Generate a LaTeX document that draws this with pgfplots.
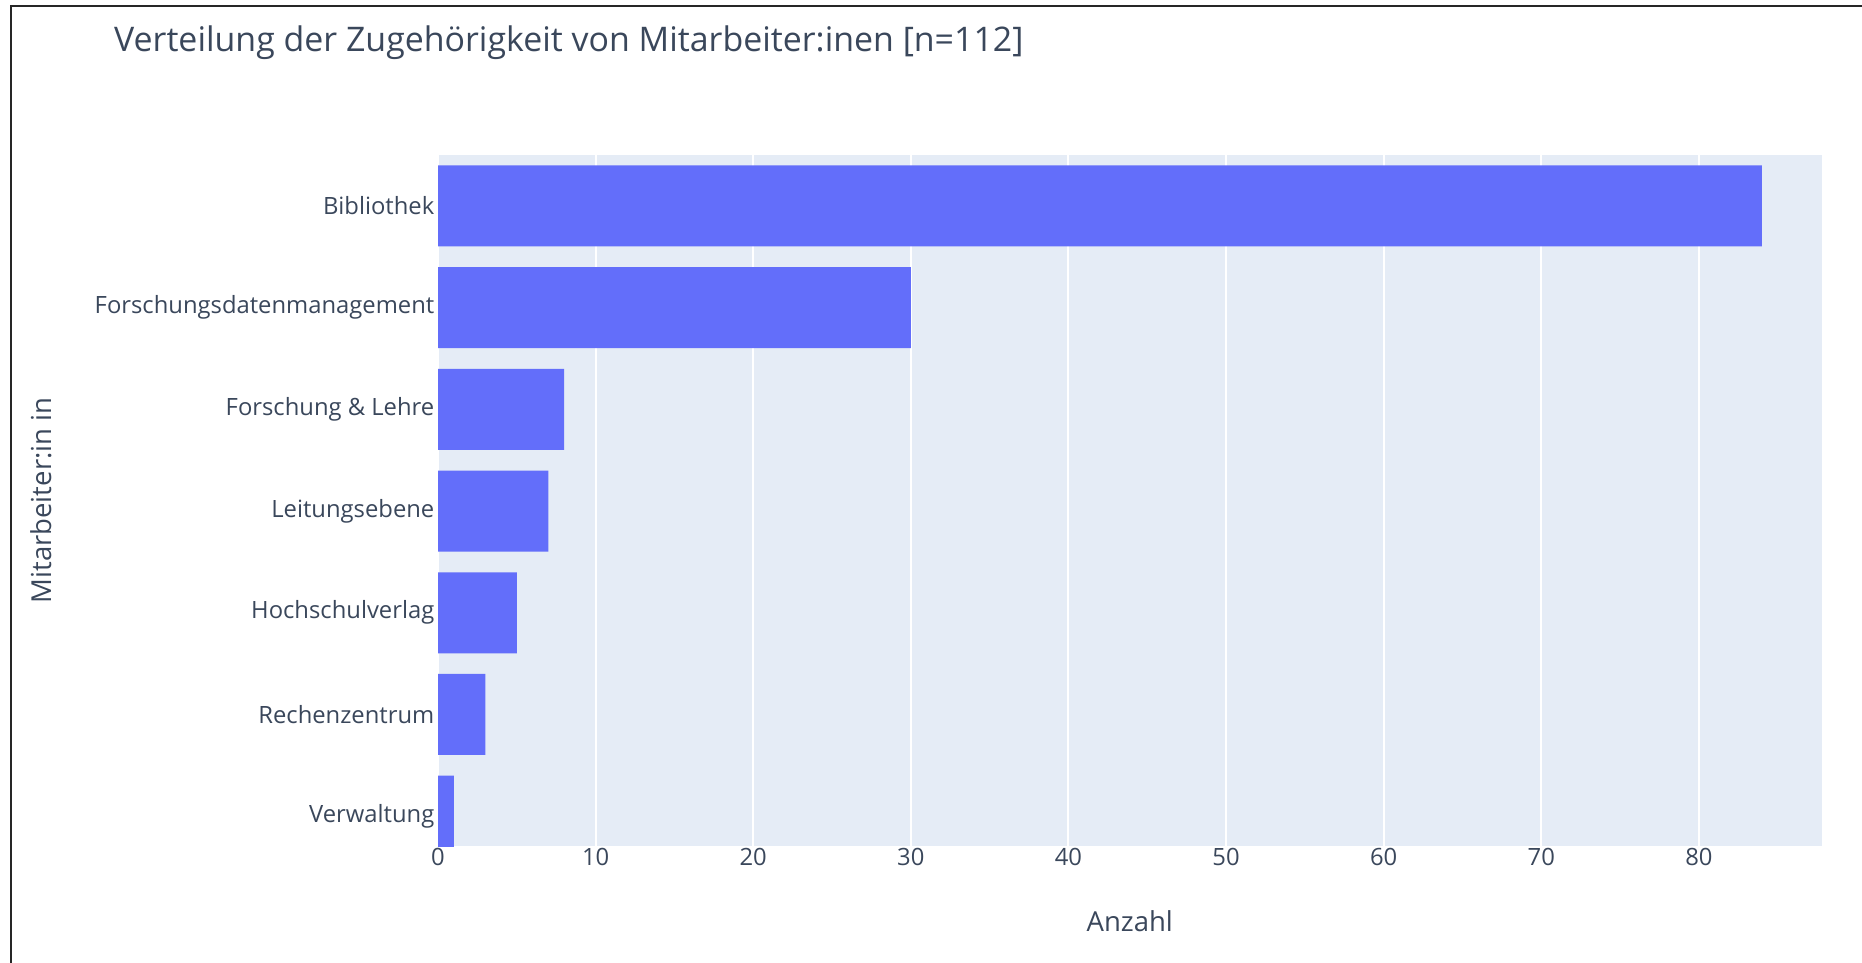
\documentclass[border=0pt]{standalone}
\usepackage{fontspec}
\setmainfont{Open Sans}
\usepackage{pgfplots}
\pgfplotsset{compat=1.18}
\definecolor{barcol}{HTML}{636EFA}
\definecolor{bgcol}{HTML}{E5ECF6}
\definecolor{txtcol}{HTML}{3A475B}
\begin{document}
\begin{tikzpicture}[x=1pt,y=1pt]
\useasboundingbox (0,0) rectangle (1862,-963);
\begin{axis}[
  at={(438pt,-846pt)}, anchor=south west,
  scale only axis, width=1383.5pt, height=691pt,
  xbar, bar width=81pt,
  xmin=0, xmax=87.78,
  ymin=-0.5, ymax=6.293, y dir=reverse,
  ytick={0,1,2,3,4,5,6},
  yticklabels={Bibliothek, Forschungsdatenmanagement, Forschung \& Lehre, Leitungsebene, Hochschulverlag, Rechenzentrum, Verwaltung},
  xtick={0,10,20,30,40,50,60,70,80},
  /pgf/number format/assume math mode=true,
  axis line style={draw=none},
  major tick length=0pt,
  axis background/.style={fill=bgcol},
  xmajorgrids, major grid style={white, line width=2pt},
  ymajorgrids=false,
  tick label style={font=\fontsize{23.8pt}{28pt}\selectfont, text=txtcol},
  yticklabel style={anchor=east, inner sep=0pt, xshift=-3.5pt},
  xticklabel style={anchor=north, inner sep=0pt, yshift=-2pt},
  xlabel={Anzahl},
  xlabel style={at={(axis description cs:0.5,0)}, anchor=base, yshift=-85pt, font=\fontsize{27.5pt}{32pt}\selectfont, text=txtcol, inner sep=0pt},
  ylabel={Mitarbeiter:in in},
  ylabel style={at={(axis description cs:-0.2866,0.5)}, anchor=center, font=\fontsize{27.5pt}{32pt}\selectfont, text=txtcol, inner sep=0pt},
  title={Verteilung der Zugehörigkeit von Mitarbeiter:inen [n=112]},
  title style={at={(axis description cs:-0.2342,1.1418)}, anchor=base west, font=\fontsize{33.9pt}{38pt}\selectfont, text=txtcol, inner sep=0pt},
]
\addplot[fill=barcol, draw=none] coordinates {(84,0) (30,1) (8,2) (7,3) (5,4) (3,5) (1,6)};
\end{axis}
\draw[line width=2.5pt, black!85] (11,-963) -- (11,-6) -- (1862,-6);
\end{tikzpicture}
\end{document}
